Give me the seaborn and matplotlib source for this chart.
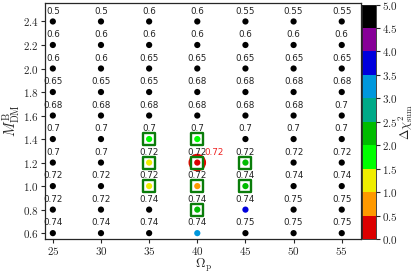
import numpy as np
import pandas as pd
import matplotlib
matplotlib.use("Agg")
import matplotlib.pyplot as plt
from matplotlib.colors import ListedColormap, BoundaryNorm, Normalize
from matplotlib.cm import ScalarMappable
import seaborn as sns

omega_p = [25, 30, 35, 40, 45, 50, 55]
m_dm = [2.4, 2.2, 2.0, 1.8, 1.6, 1.4, 1.2, 1.0, 0.8, 0.6]

# label values (rows top -> bottom, columns 25..55)
labels = [
    [0.5, 0.5, 0.6, 0.6, 0.55, 0.55, 0.55],
    [0.6, 0.6, 0.6, 0.6, 0.6, 0.6, 0.6],
    [0.6, 0.6, 0.65, 0.65, 0.65, 0.65, 0.65],
    [0.65, 0.65, 0.65, 0.68, 0.68, 0.68, 0.68],
    [0.68, 0.68, 0.68, 0.68, 0.68, 0.68, 0.7],
    [0.7, 0.7, 0.7, 0.7, 0.7, 0.7, 0.7],
    [0.7, 0.7, 0.72, 0.72, 0.72, 0.72, 0.72],
    [0.72, 0.72, 0.72, 0.72, 0.74, 0.74, 0.74],
    [0.72, 0.72, 0.74, 0.74, 0.74, 0.75, 0.75],
    [0.74, 0.74, 0.74, 0.74, 0.75, 0.75, 0.75],
]

# delta chi^2 (5 = saturated / black)
dchi2 = [
    [5, 5, 5, 5, 5, 5, 5],
    [5, 5, 5, 5, 5, 5, 5],
    [5, 5, 5, 5, 5, 5, 5],
    [5, 5, 5, 5, 5, 5, 5],
    [5, 5, 5, 5, 5, 5, 5],
    [5, 5, 1.7, 1.8, 5, 5, 5],
    [5, 5, 1.2, 0.0, 2.2, 5, 5],
    [5, 5, 1.3, 0.7, 2.3, 5, 5],
    [5, 5, 5, 2.2, 3.7, 5, 5],
    [5, 5, 5, 3.2, 5, 5, 5],
]

best_label = "0.72"

rows = []
for i, m in enumerate(m_dm):
    for j, o in enumerate(omega_p):
        rows.append(dict(omega=o, m=m, lab=labels[i][j], d=dchi2[i][j]))
df = pd.DataFrame(rows)

sns.set_theme(style="ticks")
plt.rcParams["mathtext.fontset"] = "cm"
plt.rcParams["font.family"] = ["DejaVu Sans"]

nip = plt.get_cmap("nipy_spectral")
cols = [nip(0.9 - 0.1 * k) for k in range(10)]
cmap = ListedColormap(cols)
norm = Normalize(0, 5)

fig = plt.figure(figsize=(4.14, 2.73), dpi=100)
ax = fig.add_axes([0.109, 0.1245, 0.763, 0.8645])
cax = fig.add_axes([0.874, 0.1245, 0.034, 0.859])

good = df[df.d < 2.5]
best = df[df.d == df.d.min()]

# best-fit red circle
sns.scatterplot(data=best, x="omega", y="m", ax=ax, s=160, color="#ee0000",
                edgecolor="none", legend=False, zorder=2)
# green squares around good fits
sns.scatterplot(data=good, x="omega", y="m", ax=ax, s=80, marker="s",
                facecolor="white", edgecolor="#0a7d0a", linewidth=1.7,
                legend=False, zorder=3)
# all points coloured by delta chi^2
sns.scatterplot(data=df, x="omega", y="m", hue="d", palette=cmap, hue_norm=norm,
                ax=ax, s=20, edgecolor="none", legend=False, zorder=4)

for _, r in df.iterrows():
    ax.text(r.omega, r.m + 0.088, f"{r.lab:g}", ha="center", va="center",
            fontsize=6.3, color="#222222")
for _, r in best.iterrows():
    ax.text(r.omega + 1.75, r.m + 0.088, best_label, ha="center", va="center",
            fontsize=6.3, color="#ee2222")

ax.set_xlim(24.2, 57.0)
ax.set_ylim(0.55, 2.557)
ax.set_xticks(omega_p)
ax.set_xticklabels([f"${o}$" for o in omega_p], fontsize=8)
yt = [0.6, 0.8, 1.0, 1.2, 1.4, 1.6, 1.8, 2.0, 2.2, 2.4]
ax.set_yticks(yt)
ax.set_yticklabels([f"${v:.1f}$" for v in yt], fontsize=8)
ax.tick_params(length=3, width=0.8, pad=1.5)
ax.set_xlabel(r"$\Omega_{\rm p}$", fontsize=9.5)
ax.xaxis.set_label_coords(0.5, -0.077)
ax.set_ylabel(r"$M_{\rm DM}^{\rm B}$", fontsize=10.5, labelpad=1)
for sp in ax.spines.values():
    sp.set_linewidth(0.9)

bounds = np.arange(0, 5.01, 0.5)
cb = fig.colorbar(ScalarMappable(norm=BoundaryNorm(bounds, 10), cmap=cmap),
                  cax=cax, boundaries=bounds, ticks=bounds)
cb.ax.set_yticklabels([f"${b:.1f}$" for b in bounds], fontsize=8)
cb.ax.tick_params(length=3, width=0.8, pad=1.5)
cb.outline.set_linewidth(0.6)
cb.set_label(r"$\Delta\chi^2_{\rm sum}$", fontsize=9)
cb.ax.yaxis.set_label_coords(2.5, 0.5)

fig.savefig("out.png", dpi=100)
